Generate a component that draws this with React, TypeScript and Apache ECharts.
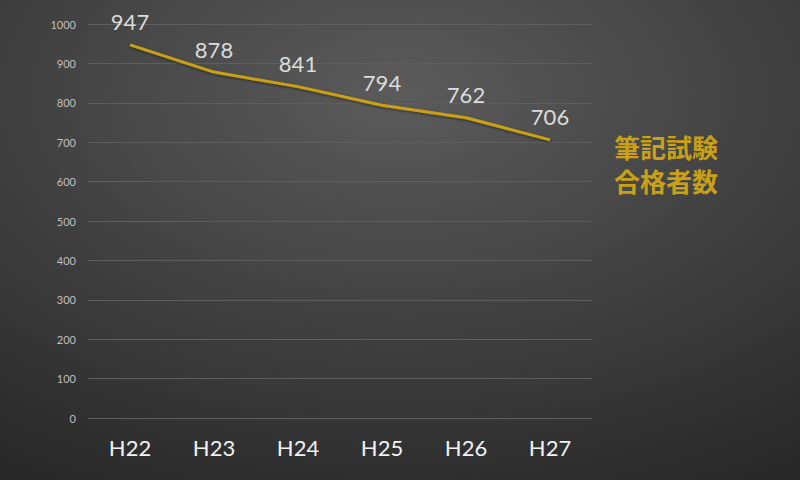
import React, { useEffect, useRef } from "react";
import * as echarts from "echarts";

const categories = ["H22", "H23", "H24", "H25", "H26", "H27"];
const passers = [947, 878, 841, 794, 762, 706];
const yTicks = [0, 100, 200, 300, 400, 500, 600, 700, 800, 900, 1000];
const seriesTitle = ["筆記試験", "合格者数"];

const App = () => {
    const chartRef = useRef(null);

    useEffect(() => {
        if (!chartRef.current) return;
        document.body.style.margin = "0";
        const chart = echarts.init(chartRef.current, null, { renderer: "svg" });

        const option = {
            animation: false,
            backgroundColor: {
                type: "radial",
                x: 0.5,
                y: 0.2,
                r: 0.95,
                colorStops: [
                    { offset: 0, color: "#5b5b5b" },
                    { offset: 1, color: "#262626" },
                ],
            },
            textStyle: { fontFamily: "Lato, 'Noto Sans', sans-serif" },
            grid: { left: 88, right: 208, top: 24, bottom: 62 },
            xAxis: {
                type: "category",
                data: categories,
                boundaryGap: true,
                axisLine: { show: false },
                axisTick: { show: false },
                axisLabel: { color: "#f2f2f2", fontSize: 22, margin: 18 },
            },
            yAxis: {
                type: "value",
                min: yTicks[0],
                max: yTicks[yTicks.length - 1],
                interval: 100,
                axisLine: { show: false },
                axisTick: { show: false },
                axisLabel: {
                    color: "#bfbfbf",
                    fontSize: 11,
                    margin: 12,
                    formatter: (v: number) => String(v),
                },
                splitLine: { lineStyle: { color: "#5e5e5e", width: 1 } },
            },
            series: [
                {
                    name: seriesTitle.join(""),
                    type: "line",
                    data: passers,
                    symbol: "circle",
                    symbolSize: 0.1,
                    itemStyle: { color: "#c9a016" },
                    lineStyle: {
                        color: "#c9a016",
                        width: 3,
                        shadowColor: "rgba(0,0,0,0.5)",
                        shadowBlur: 3,
                        shadowOffsetY: 1,
                    },
                    label: {
                        show: true,
                        position: "top",
                        distance: 12,
                        color: "#dcdcdc",
                        fontSize: 22,
                    },
                },
            ],
            graphic: [
                {
                    type: "text",
                    left: 614,
                    top: 129,
                    style: {
                        text: seriesTitle.join("\n"),
                        fill: "#c9a016",
                        font: "bold 26px 'Noto Sans CJK JP'",
                        lineHeight: 34,
                    },
                },
            ],
        };

        chart.setOption(option);
        return () => chart.dispose();
    }, []);

    return <div ref={chartRef} style={{ width: "800px", height: "480px" }} />;
};

export default App;
